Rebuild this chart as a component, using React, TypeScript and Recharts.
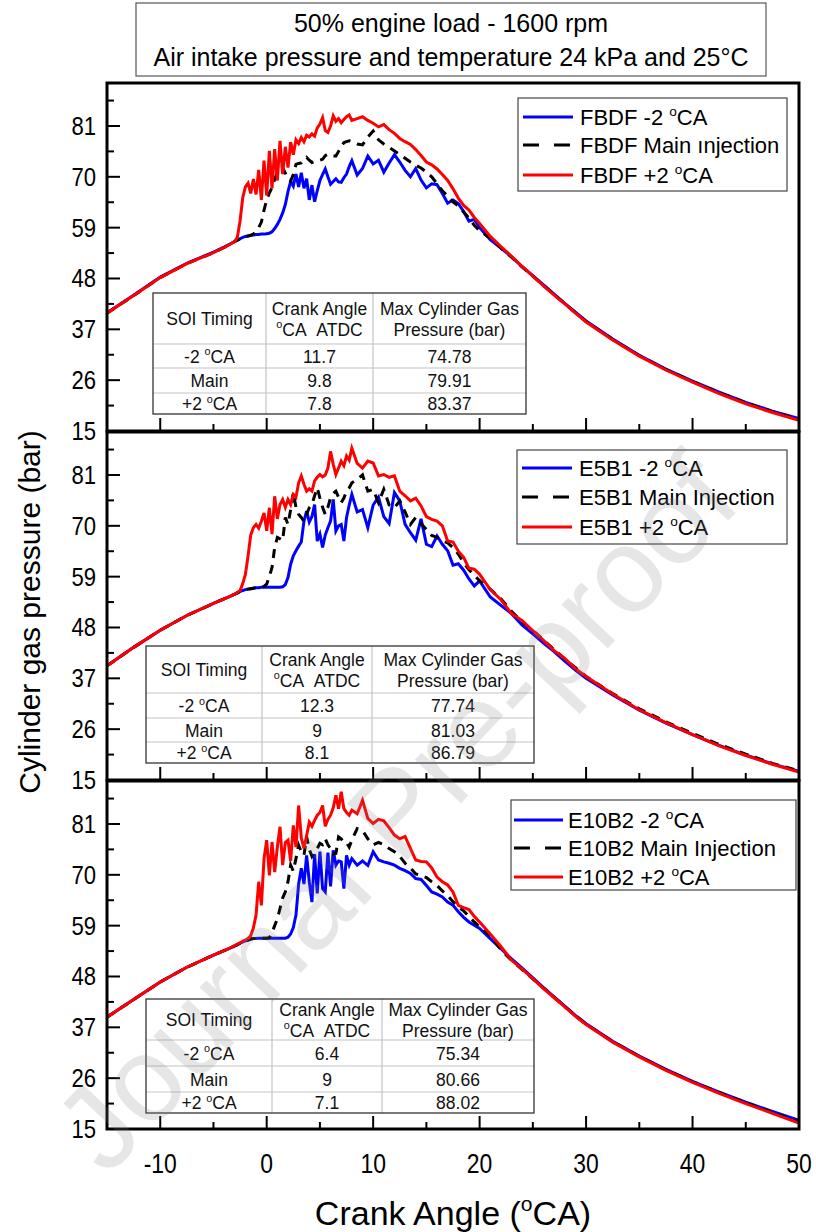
import React from 'react';
import { LineChart, Line, XAxis, YAxis } from 'recharts';

const FONT = '"Liberation Sans", Arial, Helvetica, sans-serif';

// ---------- shared crank angle grid (ºCA) ----------
const crankAngle = [
  -15, -12.5, -10, -7.5, -5, -4, -3.5,
  -3, -2.75, -2.5, -2.25, -2, -1.75, -1.5, -1.25, -1, -0.75, -0.5, -0.25,
  0, 0.25, 0.5, 0.75, 1, 1.25, 1.5, 1.75, 2, 2.25, 2.5, 2.75,
  3, 3.25, 3.5, 3.75, 4, 4.25, 4.5, 4.75, 5, 5.25, 5.5, 5.75,
  6, 6.25, 6.5, 6.75, 7, 7.25, 7.5, 7.75, 8,
  8.5, 9, 9.5, 10, 10.5, 11, 11.5, 12,
  12.5, 13, 13.5, 14, 14.5, 15, 15.5, 16,
  16.5, 17, 17.5, 18, 18.5, 19, 19.5, 20,
  21, 22, 23, 24, 25, 26, 27, 28, 29, 30,
  32.5, 35, 37.5, 40, 42.5, 45, 47.5, 50,
];

// ---------- FBDF (bar) ----------
const fbdfMinus2 = [
  40.6, 44.4, 48.3, 51.3, 53.7, 54.8, 55.4,
  56.0, 56.3, 56.6, 56.9, 57.1, 57.2, 57.3, 57.4, 57.5, 57.5, 57.6, 57.6,
  57.7, 57.8, 58.1, 58.8, 59.7, 60.8, 62.2, 64.0, 66.8, 69.0, 68.0, 70.6,
  67.8, 70.9, 67.5, 69.6, 65.0, 68.2, 64.6, 67.0, 69.2, 70.5, 71.7, 70.0,
  68.4, 69.0, 69.6, 68.9, 68.8, 69.8, 70.6, 72.2, 73.5,
  70.4, 71.8, 74.5, 72.8, 73.6, 71.0, 73.0, 74.8,
  73.2, 71.4, 70.0, 71.8, 69.3, 67.6, 68.5, 68.3,
  66.4, 64.3, 65.0, 64.2, 62.5, 60.4, 60.8, 59.0,
  56.4, 54.6, 52.7, 50.5, 48.6, 46.6, 44.6, 42.6, 40.7, 38.8,
  34.9, 31.4, 28.4, 25.8, 23.4, 21.2, 19.3, 17.7,
];
const fbdfMain = [
  40.5, 44.3, 48.2, 51.2, 53.6, 54.7, 55.3,
  56.0, 56.3, 56.6, 56.9, 57.1, 57.2, 57.4, 57.6, 58.2, 59.0, 60.2, 62.8,
  65.0, 66.5, 67.7, 69.5, 70.9, 71.8, 72.0, 70.8, 69.6, 69.1, 70.5, 72.7,
  72.9, 73.0, 73.6, 74.2, 73.6, 73.1, 73.3, 73.5, 73.6, 73.8, 74.6, 74.9,
  74.7, 74.5, 74.5, 75.5, 76.6, 77.4, 77.6, 77.8, 77.6,
  77.1, 76.9, 78.6, 79.9, 78.0, 77.1, 76.4, 75.6,
  74.8, 74.0, 73.2, 72.5, 71.9, 71.0, 70.0, 68.5,
  67.0, 65.8, 64.6, 63.7, 62.4, 61.1, 59.5, 58.3,
  56.8, 54.6, 52.6, 50.5, 48.5, 46.5, 44.5, 42.5, 40.6, 38.7,
  34.8, 31.3, 28.3, 25.7, 23.3, 21.1, 19.2, 17.5,
];
const fbdfPlus2 = [
  40.5, 44.3, 48.2, 51.2, 53.6, 54.7, 55.3,
  56.0, 57.0, 60.5, 65.5, 67.8, 68.6, 66.4, 69.5, 66.2, 71.5, 65.0, 73.5,
  66.0, 75.6, 67.5, 76.0, 69.2, 77.8, 70.6, 76.5, 72.0, 77.5, 74.8, 78.0,
  77.2, 78.5, 77.6, 79.0, 78.6, 79.3, 78.8, 80.6, 81.4, 82.8, 80.0, 79.6,
  81.0, 83.2, 82.0, 82.6, 81.7, 82.4, 83.0, 83.4, 82.2,
  82.6, 83.0, 82.2, 81.6, 80.8, 81.3, 80.2, 79.4,
  78.3, 77.6, 77.0, 75.9, 74.6, 73.2, 72.6, 71.7,
  70.5, 69.2, 67.4, 65.4, 63.8, 62.8, 61.2, 59.9,
  57.1, 54.9, 52.8, 50.6, 48.5, 46.4, 44.4, 42.5, 40.5, 38.6,
  34.7, 31.2, 28.2, 25.6, 23.1, 20.9, 19.0, 17.3,
];

// ---------- E5B1 (bar) ----------
const e5b1Minus2 = [
  39.7, 43.7, 47.4, 50.6, 53.2, 54.2, 54.7,
  55.2, 55.5, 55.8, 56.0, 56.2, 56.3, 56.4, 56.5, 56.6, 56.6, 56.7, 56.7,
  56.7, 56.7, 56.7, 56.7, 56.7, 56.7, 56.8, 57.3, 58.8, 61.7, 63.5, 64.6,
  65.6, 66.5, 71.0, 73.2, 70.8, 72.0, 74.6, 66.7, 68.2, 65.3, 68.0, 69.6,
  71.0, 75.7, 68.9, 70.0, 70.3, 66.7, 71.8, 74.5, 76.8,
  73.0, 73.5, 69.6, 74.5, 76.2, 72.0, 70.5, 77.2,
  75.4, 70.3, 68.5, 66.9, 71.5, 66.0, 65.5, 67.8,
  66.0, 64.6, 61.5, 61.8, 60.4, 58.5, 57.0, 58.1,
  54.6, 52.8, 51.0, 48.5, 46.6, 44.6, 42.8, 40.7, 38.8, 37.0,
  33.4, 30.1, 27.3, 24.8, 22.5, 20.4, 18.5, 16.9,
];
const e5b1Main = [
  39.7, 43.7, 47.4, 50.6, 53.2, 54.2, 54.7,
  55.2, 55.5, 55.8, 56.0, 56.2, 56.3, 56.4, 56.5, 56.6, 56.6, 56.7, 56.9,
  57.4, 59.0, 61.0, 65.3, 67.5, 67.2, 66.8, 71.8, 70.3, 73.5, 77.2, 74.0,
  72.5, 71.8, 71.0, 72.5, 73.9, 74.6, 76.5, 78.2, 76.0, 74.0, 72.5, 74.0,
  76.1, 77.0, 77.5, 76.2, 75.0, 76.0, 77.5, 78.2, 79.3,
  80.0, 81.0, 77.5, 77.9, 75.0, 77.9, 74.5, 73.9,
  75.4, 73.0, 70.3, 71.8, 70.5, 69.2, 67.9, 67.5,
  66.7, 66.3, 65.3, 63.9, 62.0, 60.5, 59.3, 58.1,
  56.3, 54.2, 51.5, 49.2, 47.4, 45.3, 43.2, 41.2, 39.3, 37.4,
  33.7, 30.4, 27.6, 25.1, 22.7, 20.6, 18.6, 17.0,
];
const e5b1Plus2 = [
  39.7, 43.7, 47.4, 50.6, 53.2, 54.2, 54.7,
  55.2, 55.6, 56.0, 57.5, 59.5, 63.5, 68.0, 69.6, 70.3, 69.5, 71.0, 72.8,
  68.9, 73.9, 68.2, 76.4, 71.5, 74.6, 75.7, 74.0, 75.7, 74.6, 76.8, 76.2,
  79.3, 80.8, 79.0, 77.5, 78.0, 77.5, 79.7, 80.5, 81.1, 80.6, 81.0, 82.5,
  86.1, 83.3, 81.1, 82.5, 84.0, 83.0, 85.1, 84.2, 86.8,
  83.5, 82.5, 84.0, 83.6, 80.8, 81.1, 80.5, 80.8,
  77.5, 76.5, 75.4, 76.0, 74.3, 72.0, 71.4, 71.0,
  70.0, 66.7, 66.5, 64.5, 63.2, 60.8, 60.6, 59.5,
  56.2, 54.0, 51.0, 49.5, 47.3, 45.2, 43.0, 41.3, 39.1, 37.4,
  33.6, 30.2, 27.4, 24.8, 22.4, 20.3, 18.4, 16.7,
];

// ---------- E10B2 (bar) ----------
const e10b2Minus2 = [
  39.2, 43.0, 46.8, 50.0, 52.6, 53.6, 54.1,
  54.6, 54.9, 55.2, 55.5, 55.7, 55.9, 56.1, 56.2, 56.2, 56.3, 56.3, 56.3,
  56.3, 56.3, 56.3, 56.3, 56.3, 56.3, 56.3, 56.3, 56.5, 57.2, 58.6, 61.3,
  68.0, 71.4, 68.0, 74.2, 68.5, 64.1, 74.5, 66.0, 75.0, 67.0, 66.3, 74.8,
  67.5, 75.3, 72.1, 73.0, 72.8, 67.0, 74.2, 72.1, 73.5,
  72.1, 73.0, 72.0, 75.0, 73.2, 72.8, 72.5, 72.1,
  71.4, 70.9, 70.3, 69.2, 69.0, 67.7, 66.3, 65.8,
  65.2, 64.1, 63.4, 62.0, 60.8, 59.8, 59.1, 58.4,
  56.2, 54.0, 51.8, 49.8, 47.7, 45.6, 43.6, 41.6, 39.6, 37.8,
  34.0, 30.8, 27.9, 25.3, 23.0, 20.8, 18.8, 16.9,
];
const e10b2Main = [
  39.2, 43.0, 46.8, 50.0, 52.6, 53.6, 54.1,
  54.6, 54.9, 55.2, 55.5, 55.7, 55.9, 56.1, 56.2, 56.2, 56.3, 56.3, 56.3,
  56.3, 56.4, 57.5, 59.0, 60.5, 62.7, 65.0, 66.3, 68.5, 72.1, 70.8, 73.5,
  76.4, 75.0, 74.2, 78.2, 75.5, 74.0, 75.0, 75.7, 76.8, 76.5, 77.8, 76.5,
  75.7, 74.5, 74.6, 78.2, 77.8, 77.0, 77.0, 76.0, 77.5,
  80.0, 79.6, 77.8, 76.5, 77.0, 76.5, 75.7, 75.0,
  74.0, 72.5, 71.5, 70.2, 69.9, 69.4, 68.5, 67.7,
  66.5, 65.5, 64.2, 63.0, 62.2, 61.0, 59.8, 58.7,
  56.8, 53.8, 51.5, 49.5, 47.5, 45.5, 43.5, 41.5, 39.5, 37.7,
  33.9, 30.7, 27.8, 25.2, 22.9, 20.7, 18.6, 16.6,
];
const e10b2Plus2 = [
  39.2, 43.0, 46.8, 50.0, 52.6, 53.6, 54.1,
  54.7, 55.0, 55.3, 55.6, 55.9, 56.2, 56.8, 58.5, 61.3, 68.5, 63.4, 73.5,
  77.5, 69.9, 77.1, 70.6, 76.0, 80.4, 72.1, 77.0, 77.5, 73.0, 80.7, 76.0,
  85.0, 78.0, 75.7, 78.5, 81.4, 80.5, 81.8, 82.9, 83.5, 85.0, 80.5, 82.0,
  82.9, 84.5, 87.2, 84.3, 88.0, 84.3, 83.5, 82.9, 84.0,
  83.2, 86.1, 82.2, 81.1, 82.0, 81.7, 80.2, 78.6,
  77.8, 78.3, 75.7, 73.2, 72.9, 72.8, 71.5, 69.5,
  68.5, 67.8, 66.3, 63.4, 62.9, 62.5, 61.0, 59.8,
  57.2, 54.5, 51.5, 49.6, 47.5, 45.4, 43.4, 41.4, 39.4, 37.6,
  33.8, 30.6, 27.7, 25.1, 22.7, 20.5, 18.4, 16.3,
];

// ---------- axes ----------
const yTicks = [15, 20.5, 26, 31.5, 37, 42.5, 48, 53.5, 59, 64.5, 70, 75.5, 81, 86.5];
const yMajor = [15, 26, 37, 48, 59, 70, 81];
const xTicks = [-10, -5, 0, 5, 10, 15, 20, 25, 30, 35, 40, 45, 50];
const xMajor = [-10, 0, 10, 20, 30, 40, 50];

// ---------- texts ----------
const titleLines = ['50% engine load - 1600 rpm', 'Air intake pressure and temperature 24 kPa and 25°C'];
const yTitle = 'Cylinder gas pressure (bar)';
const xTitle = 'Crank Angle (ºCA)';
const fbdfLegend = ['FBDF -2 ºCA', 'FBDF Main ınjection', 'FBDF +2 ºCA'];
const e5b1Legend = ['E5B1 -2 ºCA', 'E5B1 Main Injection', 'E5B1 +2 ºCA'];
const e10b2Legend = ['E10B2 -2 ºCA', 'E10B2 Main Injection', 'E10B2 +2 ºCA'];
const soiLabels = ['-2 ºCA', 'Main', '+2 ºCA'];
const fbdfAngle = ['11.7', '9.8', '7.8'];
const fbdfMax = ['74.78', '79.91', '83.37'];
const e5b1Angle = ['12.3', '9', '8.1'];
const e5b1Max = ['77.74', '81.03', '86.79'];
const e10b2Angle = ['6.4', '9', '7.1'];
const e10b2Max = ['75.34', '80.66', '88.02'];
const watermark = 'Journal Pre-proof';

// ---------- layout ----------
const W = 816;
const H = 1232;
const PLOT_LEFT = 107;
const PLOT_RIGHT = 799;
const PLOT_H = 348;
const PANEL_TOPS = [83, 432, 781];

const BLUE = '#0000ff';
const RED = '#ff0000';

function sup(str: string, fs: number) {
  const parts = str.split('º');
  const out: any[] = [<tspan key="p0">{parts[0]}</tspan>];
  for (let i = 1; i < parts.length; i++) {
    out.push(
      <tspan key={'s' + i} dy={-0.42 * fs} fontSize={0.62 * fs}>
        o
      </tspan>
    );
    out.push(
      <tspan key={'p' + i} dy={0.42 * fs} fontSize={fs}>
        {parts[i]}
      </tspan>
    );
  }
  return out;
}

const YTick = (props: any) => {
  const { x, y, payload } = props;
  const v = payload.value;
  const major = yMajor.includes(v);
  return (
    <g>
      <line x1={x} x2={x + (major ? 13 : 7)} y1={y} y2={y} stroke="#000" strokeWidth={2} />
      {major && (
        <text
          transform={`translate(${x - 11},${y + 9}) scale(0.85,1)`}
          textAnchor="end"
          fontSize={26}
          fontFamily={FONT}
          fill="#000"
        >
          {v}
        </text>
      )}
    </g>
  );
};

const XTick = (props: any) => {
  const { x, y, payload, showLabels } = props;
  const v = payload.value;
  const major = xMajor.includes(v);
  return (
    <g>
      <line x1={x} x2={x} y1={y} y2={y - (major ? 13 : 7)} stroke="#000" strokeWidth={2} />
      {showLabels && major && (
        <text
          transform={`translate(${x},${y + 44}) scale(0.85,1)`}
          textAnchor="middle"
          fontSize={27}
          fontFamily={FONT}
          fill="#000"
        >
          {v}
        </text>
      )}
    </g>
  );
};

function buildRows(a: number[], b: number[], c: number[]) {
  return crankAngle.map((x, i) => ({ x, minus2: a[i], main: b[i], plus2: c[i] }));
}

function Panel({ top, data, showLabels }: { top: number; data: any[]; showLabels: boolean }) {
  const mt = 10;
  const xh = showLabels ? 60 : 20;
  return (
    <div style={{ position: 'absolute', left: 0, top: top - mt }}>
      <LineChart
        width={W}
        height={mt + PLOT_H + xh}
        data={data}
        margin={{ top: mt, right: W - PLOT_RIGHT, bottom: 0, left: 0 }}
      >
        <XAxis
          dataKey="x"
          type="number"
          domain={[-15, 50]}
          ticks={xTicks}
          interval={0}
          tickSize={0}
          tickMargin={0}
          axisLine={false}
          tickLine={false}
          height={xh}
          allowDataOverflow
          tick={(p: any) => <XTick {...p} showLabels={showLabels} />}
        />
        <YAxis
          type="number"
          domain={[15, 90.3]}
          ticks={yTicks}
          interval={0}
          tickSize={0}
          tickMargin={0}
          axisLine={false}
          tickLine={false}
          width={PLOT_LEFT}
          allowDataOverflow
          tick={(p: any) => <YTick {...p} />}
        />
        <Line dataKey="minus2" stroke={BLUE} strokeWidth={3} dot={false} isAnimationActive={false} />
        <Line
          dataKey="main"
          stroke="#000"
          strokeWidth={3}
          strokeDasharray="9 7"
          dot={false}
          isAnimationActive={false}
        />
        <Line dataKey="plus2" stroke={RED} strokeWidth={3} dot={false} isAnimationActive={false} />
      </LineChart>
    </div>
  );
}

function LegendBox({
  x, y, w, h, rowsY, lineX1, lineX2, textX, labels,
}: {
  x: number; y: number; w: number; h: number; rowsY: number[]; lineX1: number; lineX2: number; textX: number; labels: string[];
}) {
  const colors = [BLUE, '#000', RED];
  return (
    <g>
      <rect x={x} y={y} width={w} height={h} fill="#fff" stroke="#444" strokeWidth={1.2} />
      {labels.map((lab, i) => (
        <g key={i}>
          <line
            x1={lineX1}
            x2={lineX2}
            y1={rowsY[i]}
            y2={rowsY[i]}
            stroke={colors[i]}
            strokeWidth={3}
            strokeDasharray={i === 1 ? '16 15' : undefined}
          />
          <text x={textX} y={rowsY[i] + 8} fontSize={22} fontFamily={FONT} fill="#000">
            {sup(lab, 22)}
          </text>
        </g>
      ))}
    </g>
  );
}

function DataTable({ cols, rows, angles, maxes }: { cols: number[]; rows: number[]; angles: string[]; maxes: string[] }) {
  const fs = 17.5;
  const cx = [(cols[0] + cols[1]) / 2, (cols[1] + cols[2]) / 2, (cols[2] + cols[3]) / 2];
  const hdrMid = (rows[0] + rows[1]) / 2;
  const line = (x1: number, y1: number, x2: number, y2: number, k: string) => (
    <line key={k} x1={x1} y1={y1} x2={x2} y2={y2} stroke="#c4c4c4" strokeWidth={1.2} />
  );
  const txt = (x: number, y: number, s: string, k: string) => (
    <text key={k} x={x} y={y} textAnchor="middle" fontSize={fs} fontFamily={FONT} fill="#111" xmlSpace="preserve">
      {sup(s, fs)}
    </text>
  );
  const body: any[] = [];
  for (let r = 0; r < 3; r++) {
    const my = (rows[r + 1] + rows[r + 2]) / 2 + 6.5;
    body.push(txt(cx[0], my, soiLabels[r], 'a' + r));
    body.push(txt(cx[1], my, angles[r], 'b' + r));
    body.push(txt(cx[2], my, maxes[r], 'c' + r));
  }
  return (
    <g>
      <rect x={cols[0]} y={rows[0]} width={cols[3] - cols[0]} height={rows[4] - rows[0]} fill="#fff" />
      {line(cols[1], rows[0], cols[1], rows[4], 'v1')}
      {line(cols[2], rows[0], cols[2], rows[4], 'v2')}
      {line(cols[0], rows[1], cols[3], rows[1], 'h1')}
      {line(cols[0], rows[2], cols[3], rows[2], 'h2')}
      {line(cols[0], rows[3], cols[3], rows[3], 'h3')}
      <rect
        x={cols[0]}
        y={rows[0]}
        width={cols[3] - cols[0]}
        height={rows[4] - rows[0]}
        fill="none"
        stroke="#333"
        strokeWidth={1.3}
      />
      {txt(cx[0], hdrMid + 6.5, 'SOI Timing', 'h0')}
      {txt(cx[1], hdrMid - 4, 'Crank Angle', 'h1a')}
      {txt(cx[1], hdrMid + 17, 'ºCA\u00a0\u00a0ATDC', 'h1b')}
      {txt(cx[2], hdrMid - 4, 'Max Cylinder Gas', 'h2a')}
      {txt(cx[2], hdrMid + 17, 'Pressure (bar)', 'h2b')}
      {body}
    </g>
  );
}

export default function App() {
  const d1 = buildRows(fbdfMinus2, fbdfMain, fbdfPlus2);
  const d2 = buildRows(e5b1Minus2, e5b1Main, e5b1Plus2);
  const d3 = buildRows(e10b2Minus2, e10b2Main, e10b2Plus2);
  return (
    <div style={{ position: 'absolute', left: 0, top: 0, width: W, height: H, background: '#fff', overflow: 'hidden' }}>
      <Panel top={PANEL_TOPS[0]} data={d1} showLabels={false} />
      <Panel top={PANEL_TOPS[1]} data={d2} showLabels={false} />
      <Panel top={PANEL_TOPS[2]} data={d3} showLabels={true} />
      <svg
        width={W}
        height={H}
        style={{ position: 'absolute', left: 0, top: 0, pointerEvents: 'none' }}
      >
        {PANEL_TOPS.map((t, i) => (
          <rect
            key={i}
            x={PLOT_LEFT}
            y={t}
            width={PLOT_RIGHT - PLOT_LEFT}
            height={PLOT_H}
            fill="none"
            stroke="#000"
            strokeWidth={3}
          />
        ))}
        {/* title box */}
        <rect x={136} y={3} width={630} height={73} fill="#fff" stroke="#555" strokeWidth={1.2} />
        <text x={451} y={32} textAnchor="middle" fontSize={25} fontFamily={FONT} fill="#000">
          {titleLines[0]}
        </text>
        <text x={451} y={66} textAnchor="middle" fontSize={25} fontFamily={FONT} fill="#000">
          {titleLines[1]}
        </text>
        {/* axis titles */}
        <text
          transform="translate(40,612) rotate(-90)"
          textAnchor="middle"
          fontSize={30}
          fontFamily={FONT}
          fill="#000"
        >
          {yTitle}
        </text>
        <text x={453} y={1225} textAnchor="middle" fontSize={34} fontFamily={FONT} fill="#000">
          {sup(xTitle, 34)}
        </text>
        {/* legends */}
        <LegendBox x={518} y={98} w={269} h={93} rowsY={[117, 145, 175]} lineX1={523} lineX2={573} textX={580} labels={fbdfLegend} />
        <LegendBox x={517} y={450} w={270} h={94} rowsY={[468, 497, 527]} lineX1={522} lineX2={572} textX={579} labels={e5b1Legend} />
        <LegendBox x={511} y={800} w={285} h={90} rowsY={[820, 848, 877]} lineX1={514} lineX2={563} textX={568} labels={e10b2Legend} />
        {/* tables */}
        <DataTable cols={[153, 266, 373, 526]} rows={[293, 344, 368, 393, 414]} angles={fbdfAngle} maxes={fbdfMax} />
        <DataTable cols={[146, 262, 372, 534]} rows={[646, 693, 718, 742, 763]} angles={e5b1Angle} maxes={e5b1Max} />
        <DataTable cols={[146, 272, 382, 534]} rows={[999, 1040, 1066, 1092, 1113]} angles={e10b2Angle} maxes={e10b2Max} />
        {/* watermark */}
        <text
          transform="translate(395,812) rotate(-46.6)"
          textAnchor="middle"
          dominantBaseline="central"
          fontSize={120}
          fontFamily={FONT}
          fill="#808080"
          fillOpacity={0.2}
        >
          {watermark}
        </text>
      </svg>
    </div>
  );
}
